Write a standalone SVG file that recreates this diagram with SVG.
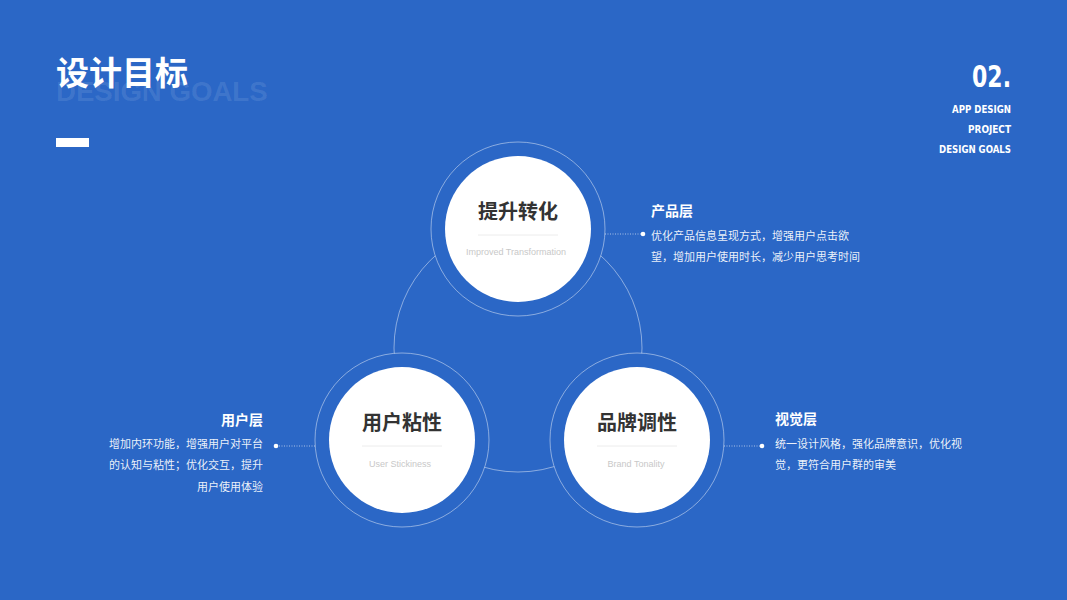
<svg xmlns="http://www.w3.org/2000/svg" width="1067" height="600" viewBox="0 0 1067 600">
  <style>
    .cjk { font-family: "Noto Sans CJK SC", "Noto Sans", sans-serif; }
    .ring { fill: #2b67c6; stroke: #ffffff; stroke-opacity: 0.45; stroke-width: 1; }
    .disc { fill: #ffffff; }
    .ntitle { font-family: "Noto Sans CJK SC", sans-serif; font-size: 20px; font-weight: bold; fill: #333333; text-anchor: middle; }
    .nsub { font-family: "Liberation Sans", Arial, sans-serif; font-size: 9px; fill: #c8c8c8; text-anchor: middle; }
    .divider { stroke: #ececec; stroke-width: 1; }
    .label { font-family: "Noto Sans CJK SC", sans-serif; font-size: 14px; font-weight: bold; fill: #ffffff; }
    .desc { font-family: "Noto Sans CJK SC", sans-serif; font-size: 11px; fill: #ffffff; fill-opacity: 0.92; }
    .dotted { stroke: #ffffff; stroke-opacity: 0.6; stroke-width: 1; stroke-dasharray: 1 1.5; fill: none; }
    .dot { fill: #ffffff; }
    .side { font-family: "DejaVu Sans Condensed", "Liberation Sans Narrow", "Liberation Sans", sans-serif; font-weight: 600; fill: #ffffff; text-anchor: end; }
  </style>
  <rect width="1067" height="600" fill="#2b67c6"/>

  <g id="header">
    <text x="56" y="101" font-family="Liberation Sans, Arial, sans-serif" font-size="27.6" font-weight="bold" fill="#ffffff" fill-opacity="0.1">DESIGN GOALS</text>
    <text x="56" y="85" class="cjk" font-size="33" font-weight="bold" fill="#ffffff">设计目标</text>
    <rect x="56" y="138" width="33" height="9" fill="#ffffff"/>
    <text x="1011" y="87" class="side" font-size="31" textLength="39" lengthAdjust="spacingAndGlyphs">02.</text>
    <text x="1011" y="113" class="side" font-size="11" textLength="59" lengthAdjust="spacingAndGlyphs">APP DESIGN</text>
    <text x="1011" y="133" class="side" font-size="11" textLength="43" lengthAdjust="spacingAndGlyphs">PROJECT</text>
    <text x="1011" y="153" class="side" font-size="11" textLength="72" lengthAdjust="spacingAndGlyphs">DESIGN GOALS</text>
  </g>

  <g id="connectors">
    <circle cx="518" cy="348" r="124" fill="none" stroke="#ffffff" stroke-opacity="0.45" stroke-width="1"/>
    <line x1="605" y1="234" x2="643" y2="234" class="dotted"/>
    <circle cx="643" cy="234" r="2.3" class="dot"/>
    <line x1="315" y1="446" x2="276" y2="446" class="dotted"/>
    <circle cx="276" cy="446" r="2.3" class="dot"/>
    <line x1="724" y1="446" x2="762" y2="446" class="dotted"/>
    <circle cx="762" cy="446" r="2.3" class="dot"/>
  </g>

  <g id="node-top">
    <circle cx="518" cy="229" r="87" class="ring"/>
    <circle cx="518" cy="229" r="73" class="disc"/>
    <text x="518" y="219" class="ntitle">提升转化</text>
    <line x1="478" y1="235" x2="558" y2="235" class="divider"/>
    <text x="516" y="255" class="nsub">Improved Transformation</text>
  </g>

  <g id="node-left">
    <circle cx="402" cy="440" r="87" class="ring"/>
    <circle cx="402" cy="440" r="73" class="disc"/>
    <text x="402" y="430" class="ntitle">用户粘性</text>
    <line x1="362" y1="446" x2="442" y2="446" class="divider"/>
    <text x="400" y="467" class="nsub">User Stickiness</text>
  </g>

  <g id="node-right">
    <circle cx="637" cy="440" r="87" class="ring"/>
    <circle cx="637" cy="440" r="73" class="disc"/>
    <text x="637" y="430" class="ntitle">品牌调性</text>
    <line x1="597" y1="446" x2="677" y2="446" class="divider"/>
    <text x="636" y="467" class="nsub">Brand Tonality</text>
  </g>

  <g id="label-product">
    <text x="651" y="216" class="label">产品层</text>
    <text x="651" y="240" class="desc">优化产品信息呈现方式，增强用户点击欲</text>
    <text x="651" y="261" class="desc">望，增加用户使用时长，减少用户思考时间</text>
  </g>

  <g id="label-user">
    <text x="263" y="425" class="label" text-anchor="end">用户层</text>
    <text x="263" y="448" class="desc" text-anchor="end">增加内环功能，增强用户对平台</text>
    <text x="263" y="469" class="desc" text-anchor="end">的认知与粘性；优化交互，提升</text>
    <text x="263" y="491" class="desc" text-anchor="end">用户使用体验</text>
  </g>

  <g id="label-visual">
    <text x="775" y="424" class="label">视觉层</text>
    <text x="775" y="448" class="desc">统一设计风格，强化品牌意识，优化视</text>
    <text x="775" y="469" class="desc">觉，更符合用户群的审美</text>
  </g>
</svg>
